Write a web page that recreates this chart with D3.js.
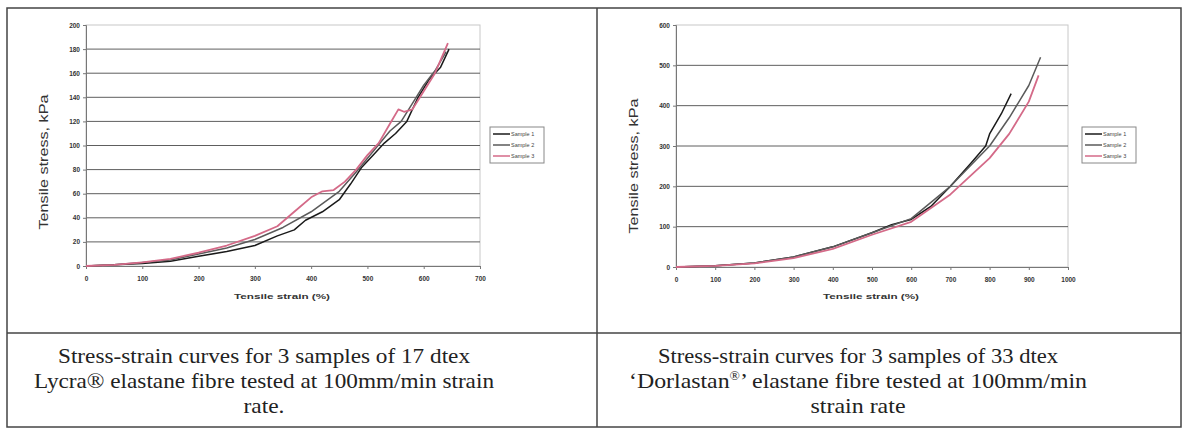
<!DOCTYPE html>
<html>
<head>
<meta charset="utf-8">
<script src="https://cdn.jsdelivr.net/npm/d3@7"></script>
<style>
  body { margin: 0; background: #fff; }
  svg { display: block; }
</style>
</head>
<body>
<svg id="chart" width="1184" height="430"></svg>
<script>
// ---- data ----
const sampleNames = ['Sample 1', 'Sample 2', 'Sample 3'];

// Lycra 17 dtex (left)
const lyStrain1 = [0, 50, 100, 150, 200, 250, 300, 340, 370, 390, 420, 450, 470, 490, 510, 530, 550, 570, 590, 610, 630, 645];
const lyStress1 = [0, 1, 2, 4, 8, 12, 17, 25, 30, 38, 45, 55, 68, 82, 92, 102, 110, 120, 140, 155, 165, 180];
const lyStrain2 = [0, 50, 100, 150, 200, 250, 300, 350, 400, 450, 480, 510, 540, 560, 580, 600, 620, 640];
const lyStress2 = [0, 1, 3, 5, 10, 15, 22, 32, 45, 62, 78, 95, 112, 120, 135, 150, 162, 178];
const lyStrain3 = [0, 50, 100, 150, 200, 250, 300, 340, 370, 400, 420, 440, 460, 480, 500, 520, 540, 555, 565, 580, 600, 620, 643];
const lyStress3 = [0, 1, 3, 6, 11, 17, 25, 33, 45, 57, 62, 63, 70, 80, 92, 102, 118, 130, 128, 130, 145, 160, 185];

// Dorlastan 33 dtex (right)
const doStrain1 = [0, 100, 200, 300, 400, 500, 550, 600, 650, 700, 750, 790, 800, 830, 855];
const doStress1 = [0, 3, 10, 25, 50, 85, 105, 118, 150, 200, 255, 300, 330, 380, 430];
const doStrain2 = [0, 100, 200, 300, 400, 500, 600, 700, 800, 850, 900, 930];
const doStress2 = [0, 3, 10, 25, 50, 85, 120, 200, 300, 370, 450, 520];
const doStrain3 = [0, 100, 200, 300, 400, 500, 600, 700, 800, 850, 900, 925];
const doStress3 = [0, 3, 9, 22, 45, 80, 112, 180, 270, 330, 410, 475];

const lyXTicks = [0, 100, 200, 300, 400, 500, 600, 700];
const lyYTicks = [0, 20, 40, 60, 80, 100, 120, 140, 160, 180, 200];
const doXTicks = [0, 100, 200, 300, 400, 500, 600, 700, 800, 900, 1000];
const doYTicks = [0, 100, 200, 300, 400, 500, 600];

// caption lines: [text, superscript-part, tail]
const captionLeft = [['Stress-strain curves for 3 samples of 17 dtex'],
                     ['Lycra\u00AE elastane fibre tested at 100mm/min strain'],
                     ['rate.']];
const captionRight = [['Stress-strain curves for 3 samples of 33 dtex'],
                      ['\u2018Dorlastan', '\u00AE', '\u2019 elastane fibre tested at 100mm/min'],
                      ['strain rate']];
const captionLeftWidths = [412, 460, 41];
const captionRightWidths = [400, 458, 95];

const lineColors = ['#1a1a1a', '#5a5a5a', '#d46a88'];

const svg = d3.select('#chart');

// table frame
const frame = svg.append('g').attr('stroke', '#444').attr('fill', 'none');
frame.append('rect').attr('x', 7).attr('y', 8).attr('width', 1174).attr('height', 419).attr('stroke-width', 1.5);
frame.append('line').attr('x1', 597).attr('x2', 597).attr('y1', 8).attr('y2', 427).attr('stroke-width', 1.5);
frame.append('line').attr('x1', 7).attr('x2', 1181).attr('y1', 333).attr('y2', 333).attr('stroke-width', 1.5);

function drawPanel(opt) {
  const x = d3.scaleLinear().domain(opt.xDomain).range(opt.xRange);
  const y = d3.scaleLinear().domain(opt.yDomain).range(opt.yRange);
  const g = svg.append('g');

  // plot area border (light)
  g.append('rect')
    .attr('x', opt.xRange[0]).attr('y', opt.yRange[1])
    .attr('width', opt.xRange[1] - opt.xRange[0])
    .attr('height', opt.yRange[0] - opt.yRange[1])
    .attr('fill', 'none').attr('stroke', '#c8c8c8');

  // gridlines
  g.selectAll('.grid').data(opt.yTicks.slice(1, -1)).enter().append('line')
    .attr('x1', opt.xRange[0]).attr('x2', opt.xRange[1])
    .attr('y1', d => y(d)).attr('y2', d => y(d))
    .attr('stroke', '#5e5e5e').attr('stroke-width', 1);

  // y axis
  const ya = g.append('g')
    .attr('transform', 'translate(' + opt.xRange[0] + ',0)')
    .call(d3.axisLeft(y).tickValues(opt.yTicks).tickFormat(d3.format('d')).tickSize(3).tickPadding(3));
  // x axis
  const xa = g.append('g')
    .attr('transform', 'translate(0,' + opt.yRange[0] + ')')
    .call(d3.axisBottom(x).tickValues(opt.xTicks).tickFormat(d3.format('d')).tickSize(3).tickPadding(7));
  [ya, xa].forEach(a => {
    a.select('.domain').attr('stroke', '#777');
    a.selectAll('.tick line').attr('stroke', '#777');
    a.selectAll('text')
      .style('font-family', 'Liberation Sans, Arial, sans-serif')
      .style('font-size', '6.5px').style('font-weight', 'bold').style('fill', '#333');
  });

  // curves
  const line = d3.line().x(d => x(d[0])).y(d => y(d[1]));
  opt.series.forEach((s, i) => {
    g.append('path')
      .datum(d3.zip(s[0], s[1]))
      .attr('d', line)
      .attr('fill', 'none')
      .attr('stroke', lineColors[i])
      .attr('stroke-width', i === 2 ? 1.8 : 1.5)
      .attr('stroke-linejoin', 'round');
  });

  // axis titles
  g.append('text')
    .attr('transform', 'translate(' + opt.yTitleX + ',' + opt.yTitleY + ') rotate(-90)')
    .attr('text-anchor', 'middle')
    .attr('textLength', 135).attr('lengthAdjust', 'spacingAndGlyphs')
    .style('font-family', 'Liberation Sans, Arial, sans-serif')
    .style('font-size', '12px').style('fill', '#333')
    .text('Tensile stress, kPa');
  g.append('text')
    .attr('x', opt.xTitleX).attr('y', 299)
    .attr('text-anchor', 'middle')
    .attr('textLength', 96).attr('lengthAdjust', 'spacingAndGlyphs')
    .style('font-family', 'Liberation Sans, Arial, sans-serif')
    .style('font-size', '8px').style('font-weight', 'bold').style('fill', '#333')
    .text('Tensile strain (%)');

  // legend
  const lg = g.append('g').attr('transform', 'translate(' + opt.legendX + ',' + opt.legendY + ')');
  lg.append('rect').attr('width', 54).attr('height', 36)
    .attr('fill', '#fff').attr('stroke', '#888');
  sampleNames.forEach((n, i) => {
    lg.append('line')
      .attr('x1', 3).attr('x2', 20)
      .attr('y1', 7 + i * 11).attr('y2', 7 + i * 11)
      .attr('stroke', lineColors[i]).attr('stroke-width', 1.5);
    lg.append('text')
      .attr('x', 21).attr('y', 9 + i * 11)
      .style('font-family', 'Liberation Sans, Arial, sans-serif')
      .style('font-size', '5.5px').style('fill', '#444')
      .text(n);
  });

  // caption
  opt.caption.forEach((c, i) => {
    const t = g.append('text')
      .attr('x', opt.captionX).attr('y', 363 + i * 25)
      .attr('text-anchor', 'middle')
      .attr('textLength', opt.captionWidths[i]).attr('lengthAdjust', 'spacingAndGlyphs')
      .style('font-family', 'Liberation Serif, Times New Roman, serif')
      .style('font-size', '21px').style('fill', '#222');
    t.append('tspan').text(c[0]);
    if (c.length > 1) {
      t.append('tspan').attr('dy', -8).style('font-size', '12px').text(c[1]);
      t.append('tspan').attr('dy', 8).text(c[2]);
    }
  });
}

drawPanel({
  xDomain: [0, 700], xRange: [86, 480],
  yDomain: [0, 200], yRange: [266, 25],
  xTicks: lyXTicks, yTicks: lyYTicks,
  series: [[lyStrain1, lyStress1], [lyStrain2, lyStress2], [lyStrain3, lyStress3]],
  yTitleX: 48, yTitleY: 162, xTitleX: 282,
  legendX: 490, legendY: 127,
  caption: captionLeft, captionWidths: captionLeftWidths, captionX: 264
});

drawPanel({
  xDomain: [0, 1000], xRange: [676, 1068],
  yDomain: [0, 600], yRange: [267, 25],
  xTicks: doXTicks, yTicks: doYTicks,
  series: [[doStrain1, doStress1], [doStrain2, doStress2], [doStrain3, doStress3]],
  yTitleX: 638, yTitleY: 166, xTitleX: 871,
  legendX: 1082, legendY: 127,
  caption: captionRight, captionWidths: captionRightWidths, captionX: 858
});
</script>
</body>
</html>
